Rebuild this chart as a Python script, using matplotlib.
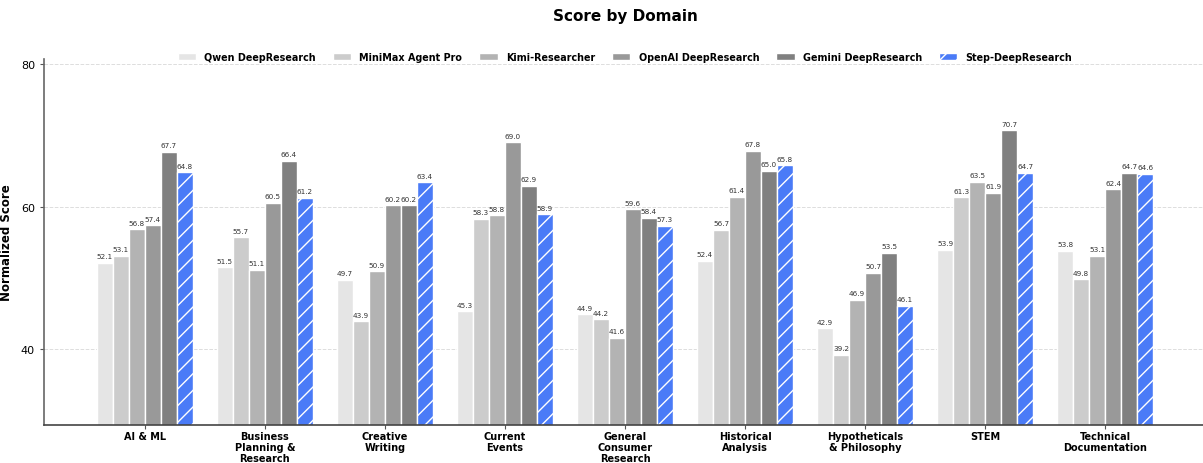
import matplotlib
matplotlib.use("Agg")
import matplotlib.pyplot as plt
import numpy as np

categories = ["AI & ML", "Business\nPlanning &\nResearch", "Creative\nWriting", "Current\nEvents",
              "General\nConsumer\nResearch", "Historical\nAnalysis", "Hypotheticals\n& Philosophy",
              "STEM", "Technical\nDocumentation"]
series_names = ["Qwen DeepResearch", "MiniMax Agent Pro", "Kimi-Researcher",
                "OpenAI DeepResearch", "Gemini DeepResearch", "Step-DeepResearch"]
qwen = [52.1, 51.5, 49.7, 45.3, 44.9, 52.4, 42.9, 53.9, 53.8]
minimax = [53.1, 55.7, 43.9, 58.3, 44.2, 56.7, 39.2, 61.3, 49.8]
kimi = [56.8, 51.1, 50.9, 58.8, 41.6, 61.4, 46.9, 63.5, 53.1]
openai = [57.4, 60.5, 60.2, 69.0, 59.6, 67.8, 50.7, 61.9, 62.4]
gemini = [67.7, 66.4, 60.2, 62.9, 58.4, 65.0, 53.5, 70.7, 64.7]
step = [64.8, 61.2, 63.4, 58.9, 57.3, 65.8, 46.1, 64.7, 64.6]
all_series = [qwen, minimax, kimi, openai, gemini, step]

colors = ["#e5e5e5", "#cccccc", "#b3b3b3", "#999999", "#808080", "#4a7bf7"]

plt.rcParams['hatch.color'] = 'white'
plt.rcParams['hatch.linewidth'] = 1.0

W, H = 1203, 464
fig = plt.figure(figsize=(W / 100, H / 100), dpi=100)
ax = fig.add_axes([44 / W, (H - 426) / H, (1206 - 44) / W, (426 - 60) / H])

n = len(all_series)
width = 0.8 / n
x = np.arange(len(categories))
for i, (vals, name, c) in enumerate(zip(all_series, series_names, colors)):
    pos = x - 0.4 + width * (i + 0.5)
    hatch = "//" if i == n - 1 else None
    bars = ax.bar(pos, vals, width, color=c, edgecolor="white", linewidth=1.0,
                  hatch=hatch, label=name, zorder=2)
    for b, v in zip(bars, vals):
        ax.text(b.get_x() + b.get_width() / 2, v + 0.5, f"{v:.1f}", ha="center", va="bottom",
                fontsize=5.2, color="#333333", zorder=4)

ax.set_xlim(-0.84, 8.84)
ax.set_ylim(29.35, 80.7)
ax.set_yticks([40, 60, 80])
ax.set_xticks(x)
ax.set_xticklabels(categories, fontsize=7.0, fontweight="bold", linespacing=1.12)
ax.tick_params(axis="y", labelsize=8, length=3, color="#555555")
ax.tick_params(axis="x", length=3, pad=1.5, color="#555555")
ax.yaxis.grid(True, linestyle="--", color="#dddddd", linewidth=0.7, zorder=0)
ax.set_axisbelow(True)
for s in ["top", "right"]:
    ax.spines[s].set_visible(False)
ax.spines["left"].set_color("#666666")
ax.spines["bottom"].set_color("#444444")
ax.spines["left"].set_linewidth(1.2)
ax.spines["bottom"].set_linewidth(1.2)
ax.spines["left"].set_zorder(5)
ax.spines["bottom"].set_zorder(5)
ax.set_ylabel("Normalized Score", fontsize=8.5, fontweight="bold", labelpad=6)

leg = ax.legend(loc="center", bbox_to_anchor=(0.5, 1.005), ncol=6, frameon=False,
                prop={"weight": "bold", "size": 6.9}, handlelength=1.9, columnspacing=1.8,
                handletextpad=0.85)

fig.text(625 / W, 1 - 17 / H, "Score by Domain", ha="center", va="center",
         fontsize=11, fontweight="bold")

fig.savefig("out.png", dpi=100)
